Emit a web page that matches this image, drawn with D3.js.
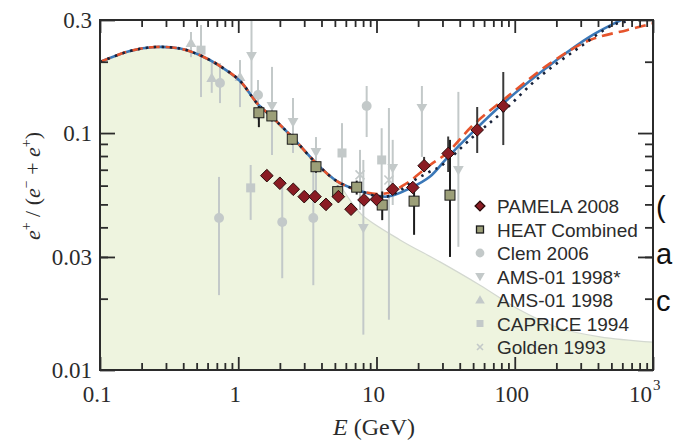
<!DOCTYPE html>
<html>
<head>
<meta charset="utf-8">
<script src="https://cdn.jsdelivr.net/npm/d3@7"></script>
<style>
body { margin: 0; background: #fff; }
svg text { fill: #2b2b2b; }
</style>
</head>
<body>
<svg width="673" height="446"></svg>
<script>
// ---- data ----
// shared part of the model curves at low energy
const baseE = [0.1, 0.165, 0.25, 0.379, 0.529, 0.738, 1.03, 1.38, 1.75, 2.49, 3.71, 5.16];
const baseV = [0.1995, 0.222, 0.2307, 0.2273, 0.213, 0.1918, 0.1659, 0.1327, 0.117, 0.0953, 0.074, 0.0627];

// secondary-only background (green area)
const greenE = [6.43, 7.86, 14.8, 28.8, 56.1, 109, 212, 414, 1000];
const greenV = [0.0521, 0.0451, 0.0354, 0.0286, 0.0228, 0.0179, 0.015, 0.0138, 0.0131];

// model tails
const blueE = [7.6, 11.85, 17.5, 24.4, 32.2, 50.1, 82.6, 201, 350, 577, 1000];
const blueV = [0.057, 0.0539, 0.0585, 0.0655, 0.0782, 0.1014, 0.1336, 0.2033, 0.2553, 0.2984, 0.35];
const redE = [7.99, 11.85, 16.5, 24.4, 32.2, 50.1, 82.6, 180, 350, 646, 1000];
const redV = [0.0565, 0.0557, 0.0614, 0.0733, 0.0822, 0.1082, 0.1379, 0.1969, 0.2469, 0.2718, 0.2905];
const dotE = [7.6, 11.85, 20, 25.6, 28.8, 50, 82, 152, 297, 514, 717, 1000];
const dotV = [0.057, 0.0539, 0.0646, 0.0698, 0.0721, 0.0965, 0.123, 0.1731, 0.2311, 0.2857, 0.3, 0.33];

// PAMELA 2008
const pamelaE = [1.61, 2.0, 2.5, 3.0, 3.59, 4.31, 5.3, 6.54, 8.12, 10.0, 13.1, 18.3, 22.1, 33.0, 53.5, 82.6];
const pamelaV = [0.0661, 0.0614, 0.0579, 0.0539, 0.0539, 0.05, 0.0539, 0.0477, 0.0522, 0.0525, 0.0579, 0.0589, 0.0728, 0.082, 0.1031, 0.1301];
const pamelaLo = [0.064, 0.059, 0.0557, 0.0518, 0.0518, 0.048, 0.0518, 0.0458, 0.05, 0.0503, 0.0553, 0.0562, 0.0685, 0.0685, 0.0824, 0.089];
const pamelaHi = [0.068, 0.0635, 0.06, 0.056, 0.056, 0.052, 0.056, 0.0496, 0.0544, 0.0548, 0.0605, 0.0617, 0.0793, 0.0967, 0.1288, 0.181];

// HEAT combined
const heatE = [1.41, 1.75, 2.46, 3.65, 5.24, 7.19, 11.0, 18.7, 34.0];
const heatV = [0.1218, 0.1181, 0.0942, 0.0721, 0.0566, 0.0591, 0.0497, 0.0516, 0.0547];
const heatLo = [0.1059, 0.112, 0.089, 0.068, 0.053, 0.055, 0.0429, 0.0372, 0.03];
const heatHi = [0.1301, 0.124, 0.099, 0.076, 0.06, 0.063, 0.0567, 0.0604, 0.0936];

// older experiments (grey)
const clemE = [0.726, 0.738, 1.39, 2.08, 3.49, 8.49];
const clemV = [0.0438, 0.1627, 0.1449, 0.0421, 0.0438, 0.1301];
const clemLo = [0.0207, 0.1338, 0.1136, 0.0244, 0.0228, 0.0962];
const clemHi = [0.0653, 0.1974, 0.1675, 0.0593, 0.0698, 0.158];

const amsStarE = [1.247, 1.754, 2.49, 3.65, 8.03, 13.1, 21.3, 39.1];
const amsStarV = [0.2113, 0.1301, 0.1113, 0.0832, 0.0397, 0.0712, 0.1276, 0.0698];
const amsStarLo = [0.1478, 0.0808, 0.0824, 0.0522, 0.0141, 0.0497, 0.0793, 0.0331];
const amsStarHi = [0.31, 0.1902, 0.1406, 0.0962, 0.077, 0.0936, 0.158, 0.1492];

const amsE = [0.455, 0.643, 1.03];
const amsV = [0.24, 0.1708, 0.1725];
const amsLo = [0.209, 0.1478, 0.1287];
const amsHi = [0.267, 0.1974, 0.2033];

const capriceE = [0.538, 1.23, 5.63, 10.9];
const capriceV = [0.2238, 0.0587, 0.0824, 0.077];
const capriceLo = [0.1419, 0.043, 0.0593, 0.0522];
const capriceHi = [0.2857, 0.0733, 0.1101, 0.1048];

const goldenE = [7.6, 12.3];
const goldenV = [0.0666, 0.0634];
const goldenLo = [0.0474, 0.0163];
const goldenHi = [0.0849, 0.1276];

const legendLabels = ['PAMELA 2008', 'HEAT Combined', 'Clem 2006', 'AMS-01 1998*', 'AMS-01 1998', 'CAPRICE 1994', 'Golden 1993'];
const xMajor = [0.1, 1, 10, 100, 1000];
const yMajor = [0.01, 0.03, 0.1, 0.3];

// ---- setup ----
const svg = d3.select('svg');
const x = d3.scaleLog().domain([0.1, 1000]).range([100, 653]);
const y = d3.scaleLog().domain([0.01, 0.3]).range([370, 20]);
const [x0, x1] = x.range();
const [y0, y1] = y.range();

const GREY = '#c3c9c9';
const serif = '"Liberation Serif", "Times New Roman", serif';
const sans = '"Liberation Sans", Arial, Helvetica, sans-serif';

function zip(E, V, lo, hi) {
	return E.map((e, i) => ({e: e, v: V[i], lo: lo ? lo[i] : null, hi: hi ? hi[i] : null}));
}

svg.append('rect').attr('width', 673).attr('height', 446).attr('fill', '#fff');

svg.append('defs').append('clipPath').attr('id', 'plot')
	.append('rect').attr('x', x0).attr('y', y1).attr('width', x1 - x0).attr('height', y0 - y1);

const plot = svg.append('g').attr('clip-path', 'url(#plot)');
const smooth = d3.curveCatmullRom.alpha(0.5);

// green background
const greenPts = zip(baseE, baseV).concat(zip(greenE, greenV));
plot.append('path')
	.datum(greenPts)
	.attr('fill', '#eef4df')
	.attr('d', d3.area()
		.x(d => x(d.e)).y0(y0).y1(d => y(d.v))
		.curve(smooth));
plot.append('path')
	.datum(greenPts)
	.attr('fill', 'none')
	.attr('stroke', '#d3d8d0')
	.attr('stroke-width', 1.2)
	.attr('d', d3.line().x(d => x(d.e)).y(d => y(d.v)).curve(smooth));

// marker shapes
function shape(sel, kind, s) {
	if (kind === 'circle') {
		sel.append('circle').attr('r', s * 0.55);
	} else if (kind === 'down') {
		sel.append('path').attr('d', `M${-s * 0.6},${-s * 0.45}L${s * 0.6},${-s * 0.45}L0,${s * 0.6}Z`);
	} else if (kind === 'up') {
		sel.append('path').attr('d', `M${-s * 0.6},${s * 0.45}L${s * 0.6},${s * 0.45}L0,${-s * 0.6}Z`);
	} else if (kind === 'square') {
		sel.append('rect').attr('x', -s / 2).attr('y', -s / 2).attr('width', s).attr('height', s);
	} else if (kind === 'diamond') {
		sel.append('path').attr('d', `M0,${-s * 0.7}L${s * 0.7},0L0,${s * 0.7}L${-s * 0.7},0Z`);
	} else if (kind === 'cross') {
		sel.append('path').attr('d', `M${-s / 2},${-s / 2}L${s / 2},${s / 2}M${-s / 2},${s / 2}L${s / 2},${-s / 2}`)
			.attr('stroke-width', 1.6);
	}
}

function series(parent, pts, kind, size, fill, stroke, barColor, barWidth) {
	const g = parent.append('g');
	g.selectAll('line')
		.data(pts)
		.enter().append('line')
		.attr('x1', d => x(d.e)).attr('x2', d => x(d.e))
		.attr('y1', d => y(d.lo)).attr('y2', d => y(d.hi))
		.attr('stroke', barColor)
		.attr('stroke-width', barWidth);
	g.selectAll('g.mk')
		.data(pts)
		.enter().append('g')
		.attr('class', 'mk')
		.attr('transform', d => `translate(${x(d.e)},${y(d.v)})`)
		.attr('fill', fill)
		.attr('stroke', stroke)
		.each(function () { shape(d3.select(this), kind, size); });
}

const greySeries = [
	{pts: zip(clemE, clemV, clemLo, clemHi), kind: 'circle'},
	{pts: zip(amsStarE, amsStarV, amsStarLo, amsStarHi), kind: 'down'},
	{pts: zip(amsE, amsV, amsLo, amsHi), kind: 'up'},
	{pts: zip(capriceE, capriceV, capriceLo, capriceHi), kind: 'square'},
	{pts: zip(goldenE, goldenV, goldenLo, goldenHi), kind: 'cross'}
];
greySeries.forEach(s => {
	series(plot, s.pts, s.kind, 9, s.kind === 'cross' ? 'none' : GREY, s.kind === 'cross' ? GREY : 'none', GREY, 2);
});

// model curves
const line = d3.line().x(d => x(d.e)).y(d => y(d.v)).curve(smooth);
plot.append('path').datum(zip(baseE, baseV).concat(zip(blueE, blueV)))
	.attr('fill', 'none').attr('stroke', '#3b78b8').attr('stroke-width', 2.6).attr('d', line);
plot.append('path').datum(zip(baseE, baseV).concat(zip(redE, redV)))
	.attr('fill', 'none').attr('stroke', '#e6542c').attr('stroke-width', 2.6)
	.attr('stroke-dasharray', '11 6').attr('d', line);
plot.append('path').datum(zip(baseE, baseV).concat(zip(dotE, dotV)))
	.attr('fill', 'none').attr('stroke', '#18223a').attr('stroke-width', 2.6)
	.attr('stroke-dasharray', '2.5 5.5').attr('d', line);

// HEAT and PAMELA
series(plot, zip(heatE, heatV, heatLo, heatHi), 'square', 10, '#9c9f78', '#1c1c1c', '#1c1c1c', 2);
series(plot, zip(pamelaE, pamelaV, pamelaLo, pamelaHi), 'diamond', 9, '#8a1c24', '#2a0a0a', '#3a3a3a', 2);

// ---- axes ----
function minorTicks(lo, hi) {
	const t = [];
	for (let p = Math.floor(Math.log10(lo)); p <= Math.ceil(Math.log10(hi)); p++) {
		for (let m = 2; m <= 9; m++) {
			const v = m * Math.pow(10, p);
			if (v > lo * 1.0001 && v < hi * 0.9999) t.push(v);
		}
	}
	return t;
}
const xMinor = minorTicks(0.1, 1000);
const yMinor = minorTicks(0.01, 0.3);

function axisGroup(gen, tx, ty) {
	const g = svg.append('g').attr('transform', `translate(${tx},${ty})`).call(gen);
	g.select('.domain').remove();
	g.selectAll('.tick line').attr('stroke', '#2b2b2b').attr('stroke-width', 1.8);
	g.selectAll('.tick text').remove();
	return g;
}
axisGroup(d3.axisBottom(x).tickValues(xMajor).tickSize(-13), 0, y0);
axisGroup(d3.axisBottom(x).tickValues(xMinor).tickSize(-7), 0, y0);
axisGroup(d3.axisTop(x).tickValues(xMajor).tickSize(-13), 0, y1);
axisGroup(d3.axisTop(x).tickValues(xMinor).tickSize(-7), 0, y1);
axisGroup(d3.axisLeft(y).tickValues(yMajor).tickSize(-15), x0, 0);
axisGroup(d3.axisLeft(y).tickValues(yMinor).tickSize(-8), x0, 0);
axisGroup(d3.axisRight(y).tickValues(yMajor).tickSize(-15), x1, 0);
axisGroup(d3.axisRight(y).tickValues(yMinor).tickSize(-8), x1, 0);

svg.append('rect')
	.attr('x', x0).attr('y', y1).attr('width', x1 - x0).attr('height', y0 - y1)
	.attr('fill', 'none').attr('stroke', '#2b2b2b').attr('stroke-width', 2);

// tick labels
svg.append('g').selectAll('text')
	.data(yMajor)
	.enter().append('text')
	.attr('x', x0 - 8)
	.attr('y', d => y(d))
	.attr('dy', '0.36em')
	.attr('text-anchor', 'end')
	.style('font-family', serif)
	.style('font-size', '23px')
	.text(d => String(d));

svg.append('g').selectAll('text')
	.data(xMajor.filter(d => d < 1000))
	.enter().append('text')
	.attr('x', d => x(d) - 3)
	.attr('y', y0 + 32)
	.attr('text-anchor', 'middle')
	.style('font-family', serif)
	.style('font-size', '23px')
	.text(d => String(d));

svg.append('text')
	.attr('x', x(1000) - 1)
	.attr('y', y0 + 32)
	.attr('text-anchor', 'end')
	.style('font-family', serif)
	.style('font-size', '23px')
	.text('10');
svg.append('text')
	.attr('x', x(1000))
	.attr('y', y0 + 20)
	.style('font-family', serif)
	.style('font-size', '15px')
	.text('3');

// axis titles
const xt = svg.append('text')
	.attr('x', 374)
	.attr('y', 435)
	.attr('text-anchor', 'middle')
	.style('font-family', serif)
	.style('font-size', '24px');
xt.append('tspan').style('font-style', 'italic').text('E');
xt.append('tspan').text(' (GeV)');

const yt = svg.append('text')
	.attr('transform', 'translate(40,186) rotate(-90)')
	.attr('text-anchor', 'middle')
	.style('font-family', serif)
	.style('font-size', '22px');
yt.append('tspan').style('font-style', 'italic').text('e');
yt.append('tspan').attr('dy', -9).style('font-size', '14px').text('+');
yt.append('tspan').attr('dy', 9).text(' / (');
yt.append('tspan').style('font-style', 'italic').text('e');
yt.append('tspan').attr('dy', -9).style('font-size', '14px').text('\u2212');
yt.append('tspan').attr('dy', 9).text(' + ');
yt.append('tspan').style('font-style', 'italic').text('e');
yt.append('tspan').attr('dy', -9).style('font-size', '14px').text('+');
yt.append('tspan').attr('dy', 9).text(')');

// ---- legend ----
const legendKinds = [
	{kind: 'diamond', size: 7, fill: '#8a1c24', stroke: '#2a0a0a'},
	{kind: 'square', size: 7, fill: '#9c9f78', stroke: '#1c1c1c'},
	{kind: 'circle', size: 8, fill: GREY, stroke: 'none'},
	{kind: 'down', size: 8, fill: GREY, stroke: 'none'},
	{kind: 'up', size: 8, fill: GREY, stroke: 'none'},
	{kind: 'square', size: 7, fill: GREY, stroke: 'none'},
	{kind: 'cross', size: 6, fill: 'none', stroke: GREY}
];
const legend = svg.append('g');
const rows = legend.selectAll('g')
	.data(legendLabels)
	.enter().append('g')
	.attr('transform', (d, i) => `translate(480,${213 + i * 23.5})`);
rows.append('g')
	.attr('transform', 'translate(0,-7)')
	.each(function (d, i) {
		const k = legendKinds[i];
		const g = d3.select(this).attr('fill', k.fill).attr('stroke', k.stroke).attr('stroke-width', 1.3);
		shape(g, k.kind, k.size);
	});
rows.append('text')
	.attr('x', 17)
	.style('font-family', sans)
	.style('font-size', '19px')
	.text(d => d);

// text of the surrounding page at the right edge
svg.append('g').selectAll('text')
	.data(['(', 'a', 'c'])
	.enter().append('text')
	.attr('x', 656)
	.attr('y', (d, i) => 217 + i * 47)
	.style('font-family', sans)
	.style('font-size', '29px')
	.style('fill', '#111')
	.text(d => d);
</script>
</body>
</html>
